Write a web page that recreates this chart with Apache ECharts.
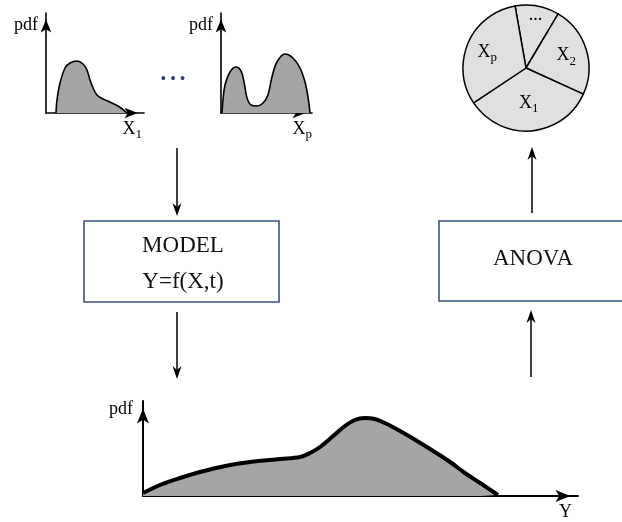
<!DOCTYPE html>
<html>
<head>
<meta charset="utf-8">
<script src="https://cdn.jsdelivr.net/npm/echarts@6/dist/echarts.min.js"></script>
<style>
  html, body { margin: 0; padding: 0; background: #fff; }
  #main { width: 622px; height: 522px; }
</style>
</head>
<body>
<div id="main"></div>
<script>
// Input distribution of X1 (single mode, long right tail)
const inputX1X   = [10.2, 11.2, 14.3, 19.4, 24.5, 31.6, 37.8, 41.8, 44.9, 48, 52, 58.2, 65.3, 73.5, 82.7];
const inputX1Pdf = [0, 13, 30, 45, 50, 52, 49, 43, 33, 25, 18, 14, 11, 7, 0];

// Input distribution of Xp (bimodal)
const inputXpX   = [1.1, 2.2, 4.4, 9.9, 16.5, 22.0, 25.3, 28.6, 33.0, 39.6, 46.2, 51.6, 56.0, 61.5, 70.3, 79.1, 86.8, 92.3, 95.6, 97.8];
const inputXpPdf = [0, 13, 28, 41, 46, 42, 31, 15, 8, 7, 10, 18, 36, 51, 59, 55, 45, 31, 16, 0];

// Output distribution of Y
const outputX   = [0, 3.9, 8.5, 13.1, 18.9, 24.6, 31.5, 36.1, 38.4, 40.7, 43.7, 46.4, 48.7, 51, 53.3, 55.6, 59.1, 63, 67.1, 70.6, 74, 77.5, 81.6];
const outputPdf = [3, 11, 18, 24, 30, 34, 37, 39, 43, 49, 60, 70, 76, 78, 77, 73, 65, 55, 44, 34, 23, 13, 1];

// ANOVA variance shares (clockwise from the top)
const shareNames  = ['...', 'X2', 'X1', 'Xp'];
const shareValues = [40.7, 83.8, 121.8, 113.7];

// Axis titles
const axisNamesX = ['X1', 'Xp', 'Y'];
const axisNameY  = 'pdf';

const SERIF = '"Liberation Serif", "Times New Roman", serif';
const AREA_GREY = '#a5a5a5';
const BOX_BLUE = '#3b5385';

const labelRich = {
  main: { fontFamily: SERIF, fontSize: 18, lineHeight: 24, color: '#000' },
  sub:  { fontFamily: SERIF, fontSize: 13, lineHeight: 12, verticalAlign: 'bottom', color: '#000' }
};
// "X1" -> X with subscript 1; other names stay as they are
function richName(s) {
  const m = /^X(\w)$/.exec(s);
  return m ? '{main|X}{sub|' + m[1] + '}' : '{main|' + s + '}';
}

function pairs(xs, ys) { return xs.map((x, i) => [x, ys[i]]); }

function makeAxes(gi, xMax, yMax, xName, lw, arrow, xPad, yPad) {
  const line = {
    show: true, onZero: false,
    symbol: ['none', 'arrow'], symbolSize: arrow, symbolOffset: [0, -arrow[1] / 2],
    lineStyle: { color: '#000', width: lw }
  };
  const common = {
    type: 'value', gridIndex: gi, min: 0,
    axisTick: { show: false }, axisLabel: { show: false }, splitLine: { show: false },
    nameLocation: 'end', nameGap: 0
  };
  return {
    x: Object.assign({}, common, {
      max: xMax, axisLine: line, name: richName(xName),
      nameTextStyle: { align: 'right', verticalAlign: 'top', padding: xPad, rich: labelRich }
    }),
    y: Object.assign({}, common, {
      max: yMax, axisLine: line, name: richName(axisNameY),
      nameTextStyle: { align: 'right', verticalAlign: 'top', padding: yPad, rich: labelRich }
    })
  };
}

const a0 = makeAxes(0, 100, 100, axisNamesX[0], 1.6, [8, 13], [4, 2, 0, 0], [0, 8, 0, 0]);
const a1 = makeAxes(1, 100, 100, axisNamesX[1], 1.6, [8, 13], [4, 0, 0, 0], [0, 8, 0, 0]);
const a2 = makeAxes(2, 100, 95, axisNamesX[2], 2, [9, 15], [4, 6, 0, 0], [-4, 10, 0, 0]);

function pdfSeries(gi, data, lw) {
  return {
    type: 'line', xAxisIndex: gi, yAxisIndex: gi, data: data,
    smooth: 0.35, symbol: 'none', silent: true,
    lineStyle: { color: '#000', width: lw },
    areaStyle: { color: AREA_GREY, opacity: 1 }
  };
}

// Flow arrow: vertical shaft from y1 to tip y2 with a notched head
function flowArrow(x, y1, y2) {
  const dir = y2 > y1 ? 1 : -1;
  const hl = 13, hw = 4.5, notch = 9;
  return [
    { type: 'line', shape: { x1: x, y1: y1, x2: x, y2: y2 - dir * notch },
      style: { stroke: '#000', lineWidth: 1.5 } },
    { type: 'polygon', shape: { points: [
        [x, y2], [x - hw, y2 - dir * hl], [x, y2 - dir * notch], [x + hw, y2 - dir * hl]
      ] }, style: { fill: '#000' } }
  ];
}

// how far each pie label is pushed out from its default inside position
const labelPush = [0.55, 0.22, 0.02, 0.22];

const chart = echarts.init(document.getElementById('main'), null, { renderer: 'canvas' });

chart.setOption({
  backgroundColor: '#fff',
  animation: false,
  grid: [
    { left: 46, top: 13, width: 98, height: 100, outerBoundsMode: 'none' },
    { left: 221, top: 13, width: 91, height: 100, outerBoundsMode: 'none' },
    { left: 143, top: 401, width: 435, height: 95, outerBoundsMode: 'none' }
  ],
  xAxis: [a0.x, a1.x, a2.x],
  yAxis: [a0.y, a1.y, a2.y],
  series: [
    pdfSeries(0, pairs(inputX1X, inputX1Pdf), 1.6),
    pdfSeries(1, pairs(inputXpX, inputXpPdf), 1.6),
    pdfSeries(2, pairs(outputX, outputPdf), 4),
    {
      type: 'pie', center: [526, 68], radius: 63,
      startAngle: 100, clockwise: true, silent: true,
      itemStyle: { color: '#e0e0e0', borderColor: '#000', borderWidth: 1.5 },
      emphasis: { disabled: true },
      label: {
        position: 'inside',
        formatter: p => richName(p.name),
        rich: labelRich
      },
      labelLine: { show: false },
      labelLayout: function (p) {
        const r = p.labelRect;
        const cx = r.x + r.width / 2 - 526, cy = r.y + r.height / 2 - 68;
        const k = labelPush[p.dataIndex];
        return { dx: cx * k, dy: cy * k };
      },
      data: shareNames.map((n, i) => ({ name: n, value: shareValues[i] }))
    }
  ],
  graphic: [
    // ellipsis between the input distributions
    { type: 'text', x: 173, y: 80, silent: true,
      style: { text: '• • •', font: '16px ' + SERIF, fill: '#2b3f73', align: 'center', verticalAlign: 'middle' } },
    // model box
    { type: 'rect', shape: { x: 84, y: 221, width: 195, height: 81 },
      style: { fill: '#fff', stroke: BOX_BLUE, lineWidth: 1.6 } },
    { type: 'text', x: 183, y: 246,
      style: { text: 'MODEL', font: '23px ' + SERIF, fill: '#111', align: 'center', verticalAlign: 'middle' } },
    { type: 'text', x: 183, y: 282,
      style: { text: 'Y=f(X,t)', font: '23px ' + SERIF, fill: '#111', align: 'center', verticalAlign: 'middle' } },
    // ANOVA box
    { type: 'rect', shape: { x: 439, y: 221, width: 200, height: 80 },
      style: { fill: '#fff', stroke: BOX_BLUE, lineWidth: 1.6 } },
    { type: 'text', x: 533, y: 259,
      style: { text: 'ANOVA', font: '23px ' + SERIF, fill: '#111', align: 'center', verticalAlign: 'middle' } }
  ]
    .concat(flowArrow(177, 148, 216))
    .concat(flowArrow(177, 312, 379))
    .concat(flowArrow(531, 377, 310))
    .concat(flowArrow(532, 213, 147))
});
</script>
</body>
</html>
